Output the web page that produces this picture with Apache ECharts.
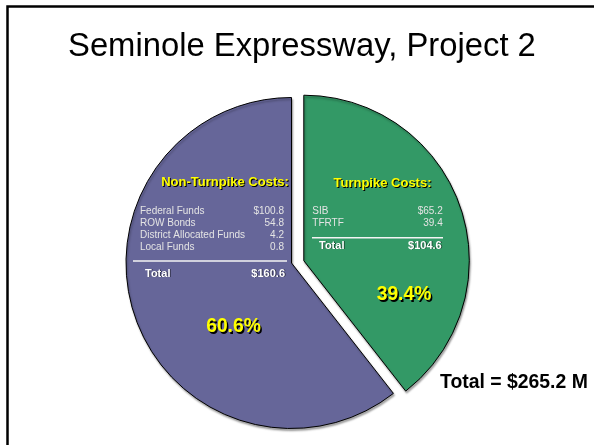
<!DOCTYPE html>
<html>
<head>
<meta charset="utf-8">
<title>Seminole Expressway, Project 2</title>
<script src="https://cdn.jsdelivr.net/npm/echarts@6.0.0/dist/echarts.min.js"></script>
<style>
  html, body { margin: 0; padding: 0; background: #fff; }
  #echart_pie { width: 594px; height: 445px; }
</style>
</head>
<body>
<div id="echart_pie"></div>
<script>
// 数据
var sliceNames = ['Turnpike Costs', 'Non-Turnpike Costs']
var sliceTotals = [104.6, 160.6]
var grandTotal = 265.2
var turnpikeNames = ['SIB', 'TFRTF']
var turnpikeValues = [65.2, 39.4]
var nonTurnpikeNames = ['Federal Funds', 'ROW Bonds', 'District Allocated Funds', 'Local Funds']
var nonTurnpikeValues = [100.8, 54.8, 4.2, 0.8]

;(function () {
  var FONT = "'Liberation Sans', Arial, sans-serif"
  var colors = ['#339966', '#666699']

  var money = function (v, i) {
    return (i === 0 ? '$' : '') + v.toFixed(1)
  }

  // 扇区里的小表格
  var costTable = function (t) {
    var els = []
    els.push({
      type: 'text', z: 100,
      style: {
        text: t.title + ':', x: t.headX, y: t.headY,
        font: 'bold 13px ' + FONT, fill: '#ffff00',
        align: 'center', verticalAlign: 'middle',
        textShadowColor: '#000', textShadowOffsetX: 1, textShadowOffsetY: 1, textShadowBlur: 0.1,
      },
    })
    t.names.forEach(function (name, i) {
      var y = t.rowY + i * 11.7
      els.push({
        type: 'text', z: 100,
        style: { text: name, x: t.left, y: y, font: '10px ' + FONT, fill: '#e4e4e4', verticalAlign: 'middle' },
      })
      els.push({
        type: 'text', z: 100,
        style: { text: money(t.values[i], i), x: t.right, y: y, font: '10px ' + FONT, fill: '#e4e4e4', align: 'right', verticalAlign: 'middle' },
      })
    })
    els.push({
      type: 'line', z: 100,
      shape: { x1: t.lineX1, y1: t.lineY, x2: t.lineX2, y2: t.lineY },
      style: { stroke: '#f4f4f4', lineWidth: 1.5 },
    })
    els.push({
      type: 'text', z: 100,
      style: {
        text: 'Total', x: t.totalX, y: t.totalY, font: 'bold 11px ' + FONT, fill: '#fff', verticalAlign: 'middle',
        textShadowColor: 'rgba(0,0,0,0.5)', textShadowOffsetX: 1, textShadowOffsetY: 0, textShadowBlur: 0.1,
      },
    })
    els.push({
      type: 'text', z: 100,
      style: {
        text: '$' + t.total.toFixed(1), x: t.totalRight, y: t.totalY, font: 'bold 11px ' + FONT, fill: '#fff',
        align: 'right', verticalAlign: 'middle',
        textShadowColor: 'rgba(0,0,0,0.5)', textShadowOffsetX: 1, textShadowOffsetY: 0, textShadowBlur: 0.1,
      },
    })
    return els
  }

  var pct = function (v) {
    return ((v / grandTotal) * 100).toFixed(1) + '%'
  }

  var render = function () {
    var myChart = echarts.init(document.getElementById('echart_pie'))

    // 一个系列只画一块，另一块透明，这样两块可以分开
    var sliceData = function (show) {
      return sliceTotals.map(function (v, i) {
        if (i !== show) {
          return { name: sliceNames[i], value: v, itemStyle: { color: 'transparent', borderWidth: 0, shadowBlur: 0 } }
        }
        return { name: sliceNames[i], value: v, itemStyle: { color: colors[i] } }
      })
    }

    var pieBase = {
      type: 'pie',
      radius: 165.5,
      startAngle: 90,
      clockwise: true,
      silent: true,
      label: { show: false },
      labelLine: { show: false },
      emphasis: { disabled: true },
      itemStyle: {
        borderColor: '#000',
        borderWidth: 1,
        shadowColor: 'rgba(0,0,0,0.35)',
        shadowBlur: 2,
        shadowOffsetX: 1,
        shadowOffsetY: 2,
      },
    }

    var bigPct = function (v, x, y) {
      return {
        type: 'text', z: 100,
        style: {
          text: pct(v), x: x, y: y,
          font: 'bold 19.3px ' + FONT, fill: '#ffff00', align: 'center', verticalAlign: 'middle',
          textShadowColor: '#000', textShadowOffsetX: 1.5, textShadowOffsetY: 1.5, textShadowBlur: 0.1,
        },
      }
    }

    var graphic = [
      {
        type: 'rect', z: 100,
        shape: { x: 7.5, y: 6.5, width: 800, height: 800 },
        style: { fill: 'none', stroke: '#000', lineWidth: 2.5 },
      },
      {
        type: 'text', z: 100,
        style: {
          text: 'Seminole Expressway, Project 2', x: 68, y: 46.5,
          font: '32.8px ' + FONT, fill: '#000', verticalAlign: 'middle',
        },
      },
      {
        type: 'text', z: 100,
        style: {
          text: 'Total = $' + grandTotal.toFixed(1) + ' M', x: 440, y: 382.5,
          font: 'bold 19.4px ' + FONT, fill: '#000', verticalAlign: 'middle',
        },
      },
      bigPct(sliceTotals[1], 233.5, 327),
      bigPct(sliceTotals[0], 404, 295),
    ]
      .concat(costTable({
        title: sliceNames[1], names: nonTurnpikeNames, values: nonTurnpikeValues, total: sliceTotals[1],
        headX: 225, headY: 182, left: 140, right: 284, rowY: 211.7,
        lineX1: 133, lineX2: 287, lineY: 261, totalX: 145, totalRight: 285, totalY: 274,
      }))
      .concat(costTable({
        title: sliceNames[0], names: turnpikeNames, values: turnpikeValues, total: sliceTotals[0],
        headX: 382.5, headY: 183, left: 312.3, right: 442.7, rowY: 211.7,
        lineX1: 312, lineX2: 443, lineY: 237.7, totalX: 319, totalRight: 441.7, totalY: 246,
      }))

    var option = {
      animation: false,
      backgroundColor: '#fff',
      series: [
        Object.assign({}, pieBase, { name: 'purple', center: [291.5, 263], data: sliceData(1) }),
        Object.assign({}, pieBase, { name: 'green', center: [303.8, 260.7], data: sliceData(0) }),
      ],
      graphic: graphic,
    }
    myChart.setOption(option)
  }

  render()
})()
</script>
</body>
</html>
